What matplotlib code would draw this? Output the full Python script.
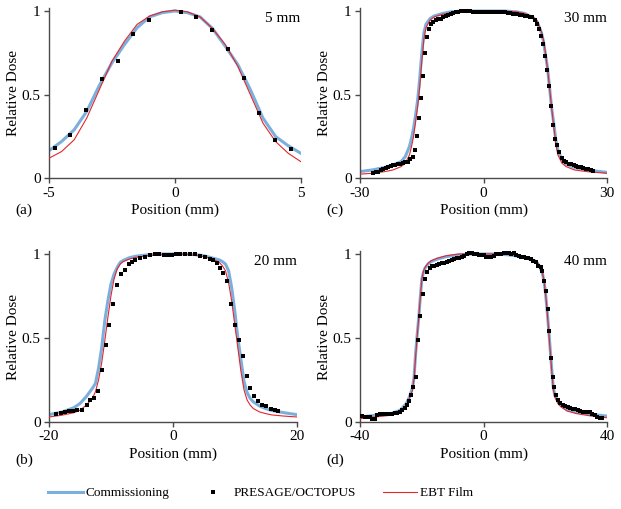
import matplotlib
matplotlib.use("Agg")
import matplotlib.pyplot as plt
from matplotlib.lines import Line2D

plt.rcParams['font.family'] = ['Liberation Serif', 'DejaVu Serif']
plt.rcParams['axes.unicode_minus'] = False

# ---------------- data ----------------
series_labels = ["Commissioning", "PRESAGE/OCTOPUS", "EBT Film"]
field_labels = ["5 mm", "20 mm", "30 mm", "40 mm"]
panel_labels = ["(a)", "(b)", "(c)", "(d)"]

# (a) 5 mm
a_x = [-5, -4.5, -4, -3.5, -3, -2.5, -2, -1.5, -1, -0.5, 0, 0.5, 1, 1.5, 2, 2.5, 3, 3.5, 4, 4.5, 5]
a_comm = [0.165, 0.22, 0.29, 0.40, 0.555, 0.69, 0.80, 0.90, 0.965, 0.99, 1.0, 0.99, 0.965, 0.895,
          0.79, 0.68, 0.53, 0.36, 0.25, 0.195, 0.15]
a_ebt = [0.12, 0.16, 0.23, 0.36, 0.53, 0.70, 0.82, 0.92, 0.97, 0.995, 1.005, 0.995, 0.965, 0.895,
         0.80, 0.67, 0.50, 0.33, 0.22, 0.15, 0.10]
a_pres_x = [-4.76, -4.17, -3.53, -2.88, -2.25, -1.65, -1.01, 0.245, 0.84, 1.48, 2.10, 2.74, 3.34, 3.98, 4.62]
a_pres_y = [0.179, 0.259, 0.408, 0.592, 0.703, 0.863, 0.946, 0.992, 0.962, 0.888, 0.771, 0.602, 0.392, 0.227, 0.175]

# (b) 20 mm
b_x = [-20, -18, -16, -15, -14, -13, -12.5, -12, -11.5, -11,
       -10.5, -10, -9.5, -9, -8.5, -8, -7, -6, -4, -2,
       0, 2, 4, 5, 6, 7, 7.5, 8, 8.5, 9,
       9.5, 10, 10.5, 11, 11.5, 12, 12.5, 13, 14, 15,
       16, 18, 20]
b_comm = [0.044, 0.058, 0.085, 0.11, 0.15, 0.20, 0.23, 0.32, 0.44, 0.60,
          0.72, 0.82, 0.88, 0.92, 0.95, 0.962, 0.978, 0.987, 0.995, 1.0,
          1.0, 1.0, 0.995, 0.99, 0.98, 0.97, 0.965, 0.955, 0.94, 0.90,
          0.80, 0.66, 0.50, 0.37, 0.24, 0.175, 0.14, 0.12, 0.095, 0.08,
          0.068, 0.055, 0.044]
b_ebt = [0.03, 0.04, 0.055, 0.07, 0.10, 0.14, 0.18, 0.25, 0.35, 0.48,
         0.62, 0.75, 0.85, 0.91, 0.94, 0.955, 0.97, 0.98, 0.99, 0.995,
         1.0, 0.998, 0.99, 0.985, 0.975, 0.96, 0.95, 0.93, 0.90, 0.83,
         0.72, 0.58, 0.44, 0.30, 0.19, 0.13, 0.10, 0.08, 0.06, 0.05,
         0.042, 0.035, 0.03]
b_pres_x = [-18.8, -18.1, -17.4, -16.7, -16.1, -15.4, -14.7, -13.9, -13.4, -12.7,
            -12.1, -11.5, -10.8, -10.3, -9.7, -9.0, -8.4, -7.7, -7.1, -6.6,
            -6.1, -5.3, -4.5, -3.7, -2.9, -2.2, -1.5, -0.8, -0.1, 0.5,
            1.15, 1.95, 2.76, 3.57, 4.38, 5.18, 6.0, 6.5, 7.07, 7.6,
            8.14, 8.68, 9.38, 10.03, 10.68, 11.3, 11.9, 12.45, 13.1, 13.8,
            14.4, 15.1, 15.8, 16.5, 17.0]
b_pres_y = [0.048, 0.054, 0.06, 0.063, 0.067, 0.069, 0.073, 0.103, 0.133, 0.143,
            0.183, 0.311, 0.46, 0.579, 0.702, 0.813, 0.881, 0.907, 0.94, 0.955,
            0.966, 0.976, 0.98, 0.996, 1.0, 0.998, 0.995, 0.994, 0.997, 1.0,
            1.0, 1.0, 0.998, 0.998, 0.99, 0.984, 0.972, 0.966, 0.946, 0.917,
            0.887, 0.837, 0.702, 0.575, 0.49, 0.391, 0.272, 0.202, 0.153, 0.123,
            0.103, 0.093, 0.079, 0.069, 0.063]

# (c) 30 mm
c_x = [-30, -27, -24, -22, -20, -19, -18, -17.5, -17, -16.5,
       -16, -15.5, -15, -14.5, -14, -13, -12, -10, -8, -5,
       0, 5, 8, 10, 12, 13, 14, 14.5, 15, 15.5,
       16, 16.5, 17, 17.5, 18, 19, 20, 22, 25, 30]
c_comm = [0.04, 0.05, 0.065, 0.08, 0.10, 0.13, 0.19, 0.24, 0.30, 0.38,
          0.47, 0.60, 0.75, 0.87, 0.92, 0.955, 0.97, 0.985, 0.995, 1.0,
          1.0, 1.0, 0.995, 0.985, 0.96, 0.935, 0.87, 0.82, 0.74, 0.66,
          0.54, 0.42, 0.33, 0.23, 0.17, 0.11, 0.085, 0.065, 0.05, 0.035]
c_ebt = [0.025, 0.03, 0.04, 0.05, 0.07, 0.09, 0.14, 0.19, 0.25, 0.34,
         0.43, 0.55, 0.70, 0.83, 0.90, 0.945, 0.965, 0.98, 0.99, 1.0,
         1.0, 1.0, 0.995, 0.985, 0.965, 0.94, 0.88, 0.83, 0.75, 0.65,
         0.54, 0.42, 0.31, 0.21, 0.14, 0.09, 0.07, 0.05, 0.04, 0.03]
c_pres_x = [-26.8, -26.2, -25.6, -25.0, -24.4, -23.8, -23.2, -22.6, -22.0, -21.4,
            -20.8, -20.2, -19.6, -19.0, -18.4, -17.8, -17.2, -16.7, -16.2, -15.7,
            -15.2, -14.7, -14.2, -13.7, -13.2, -12.7, -12.2, -11.6, -11.0, -10.4,
            -9.8, -9.2, -8.6, -8.0, -7.4, -6.8, -6.2, -5.6, -5.0, -4.4,
            -3.8, -3.2, -2.6, -2.0, -1.4, -0.8, -0.2, 0.4, 1.0, 1.6,
            2.2, 2.8, 3.4, 4.0, 4.6, 5.2, 5.8, 6.4, 7.0, 7.6,
            8.2, 8.8, 9.4, 10.0, 10.6, 11.2, 11.8, 12.4, 12.9, 13.4,
            13.9, 14.4, 14.9, 15.4, 15.9, 16.4, 16.9, 17.4, 17.9, 18.4,
            18.9, 19.4, 20.0, 20.6, 21.2, 21.8, 22.4, 23.0, 23.6, 24.2,
            24.8, 25.4, 26.0, 26.6]
c_pres_y = [0.03, 0.035, 0.04, 0.047, 0.055, 0.062, 0.07, 0.075, 0.08, 0.082,
            0.084, 0.086, 0.09, 0.095, 0.10, 0.115, 0.13, 0.17, 0.25, 0.36,
            0.48, 0.61, 0.75, 0.845, 0.89, 0.92, 0.935, 0.945, 0.95, 0.955,
            0.962, 0.97, 0.976, 0.982, 0.988, 0.992, 0.996, 1.0, 1.002, 1.0,
            1.0, 0.998, 0.996, 0.995, 0.995, 0.995, 0.995, 0.995, 0.996, 0.996,
            0.997, 0.997, 0.996, 0.995, 0.995, 0.993, 0.99, 0.987, 0.985, 0.983,
            0.98, 0.978, 0.975, 0.972, 0.97, 0.967, 0.962, 0.945, 0.92, 0.89,
            0.85, 0.80, 0.73, 0.645, 0.55, 0.43, 0.32, 0.235, 0.20, 0.155,
            0.12, 0.105, 0.095, 0.088, 0.083, 0.078, 0.074, 0.07, 0.066, 0.062,
            0.058, 0.054, 0.05, 0.045]

# (d) 40 mm
d_x = [-40, -35, -30, -27, -25, -24, -23, -22.5, -22, -21.5,
       -21, -20.5, -20, -19.5, -19, -18, -17, -15, -12, -8,
       -4, 0, 4, 8, 12, 15, 17, 18, 19, 19.5,
       20, 20.5, 21, 21.5, 22, 22.5, 23, 24, 25, 27,
       30, 35, 40]
d_comm = [0.03, 0.04, 0.05, 0.07, 0.11, 0.15, 0.205, 0.27, 0.41, 0.52,
          0.62, 0.74, 0.85, 0.89, 0.915, 0.94, 0.955, 0.97, 0.985, 0.995,
          1.0, 1.0, 1.0, 0.995, 0.985, 0.97, 0.955, 0.93, 0.885, 0.84,
          0.77, 0.67, 0.56, 0.44, 0.32, 0.21, 0.16, 0.125, 0.10, 0.075,
          0.058, 0.045, 0.035]
d_ebt = [0.02, 0.03, 0.04, 0.06, 0.10, 0.14, 0.19, 0.26, 0.39, 0.51,
         0.62, 0.74, 0.85, 0.895, 0.92, 0.945, 0.96, 0.975, 0.99, 1.0,
         1.0, 1.0, 1.0, 0.998, 0.99, 0.975, 0.96, 0.935, 0.89, 0.845,
         0.77, 0.67, 0.55, 0.43, 0.31, 0.20, 0.15, 0.11, 0.09, 0.065,
         0.05, 0.035, 0.025]
d_pres_x = [-40.0, -39.2, -38.4, -37.6, -36.8, -36.0, -35.2, -34.4, -33.6, -32.8,
            -32.0, -31.2, -30.4, -29.6, -28.8, -28.0, -27.2, -26.4, -25.6, -24.8,
            -24.0, -23.4, -22.8, -22.0, -21.2, -20.5, -19.7, -19.0, -18.3, -17.5,
            -16.7, -15.9, -15.1, -14.3, -13.5, -12.7, -11.9, -11.1, -10.3, -9.5,
            -8.7, -7.9, -7.1, -6.3, -5.5, -4.7, -3.9, -3.1, -2.3, -1.5,
            -0.7, 0.1, 0.9, 1.7, 2.5, 3.3, 4.1, 4.9, 5.7, 6.5,
            7.3, 8.1, 8.9, 9.7, 10.5, 11.3, 12.1, 12.9, 13.7, 14.5,
            15.3, 16.1, 16.9, 17.7, 18.4, 19.0, 19.6, 20.2, 20.7, 21.2,
            21.8, 22.3, 22.8, 23.4, 24.1, 24.8, 25.6, 26.4, 27.2, 28.0,
            28.8, 29.6, 30.4, 31.2, 32.0, 32.8, 33.6, 34.4, 35.2, 36.0,
            36.8, 37.6, 38.2]
d_pres_y = [0.035, 0.034, 0.032, 0.03, 0.028, 0.02, 0.02, 0.04, 0.045, 0.047,
            0.048, 0.048, 0.05, 0.05, 0.052, 0.056, 0.062, 0.07, 0.085, 0.10,
            0.125, 0.16, 0.21, 0.27, 0.49, 0.63, 0.76, 0.85, 0.89, 0.915,
            0.927, 0.93, 0.935, 0.94, 0.944, 0.948, 0.952, 0.96, 0.966, 0.97,
            0.974, 0.978, 0.985, 0.99, 1.0, 1.005, 1.005, 1.0, 0.998, 0.996,
            0.995, 0.993, 0.985, 0.984, 0.984, 0.99, 0.998, 1.0, 1.0, 1.003,
            1.005, 1.005, 1.0, 1.003, 0.995, 0.99, 0.985, 0.982, 0.978, 0.975,
            0.97, 0.96, 0.95, 0.93, 0.92, 0.90, 0.84, 0.78, 0.67, 0.54,
            0.38, 0.27, 0.21, 0.16, 0.13, 0.115, 0.10, 0.095, 0.09, 0.085,
            0.08, 0.075, 0.07, 0.066, 0.062, 0.06, 0.058, 0.062, 0.05, 0.04,
            0.03, 0.022, 0.024]

x_limits = [(-5, 5), (-20, 20), (-30, 30), (-40, 40)]

# ---------------- style ----------------
COMM_C = '#7bafdc'
EBT_C = '#e3262f'
AX_C = '#4a4a4a'
MS = 2.3

fig = plt.figure(figsize=(6.21, 5.09), dpi=100)

W, H = 621.0, 509.0
YTOP = 1.015
def axes_rect(left_px, right_px, zero_px, one_px):
    unit = zero_px - one_px
    top_px = zero_px - YTOP * unit
    return [left_px / W, 1 - zero_px / H, (right_px - left_px) / W, (zero_px - top_px) / H]

rects = [axes_rect(49, 300.7, 178.3, 11.0),
         axes_rect(49, 296.7, 422.0, 254.0),
         axes_rect(360, 607.3, 178.3, 11.0),
         axes_rect(360, 607.3, 422.0, 254.0)]

panels = [(a_x, a_comm, a_ebt, a_pres_x, a_pres_y),
          (b_x, b_comm, b_ebt, b_pres_x, b_pres_y),
          (c_x, c_comm, c_ebt, c_pres_x, c_pres_y),
          (d_x, d_comm, d_ebt, d_pres_x, d_pres_y)]

panel_label_pos = [(15 / W, 1 - 210.7 / H), (15 / W, 1 - 460 / H),
                   (326 / W, 1 - 210.7 / H), (326 / W, 1 - 460 / H)]

for i, (rect, data) in enumerate(zip(rects, panels)):
    xs, comm, ebt, px, py = data
    ax = fig.add_axes(rect)
    ax.plot(xs, comm, color=COMM_C, lw=2.2, solid_joinstyle='round', zorder=2)
    ax.plot(xs, ebt, color=EBT_C, lw=0.8, zorder=3)
    ax.plot(px, py, linestyle='none', marker='s', ms=MS, mew=0, color='black', zorder=4)
    lo, hi = x_limits[i]
    ax.set_xlim(lo, hi)
    ax.set_ylim(0, YTOP)
    ax.set_xticks([lo, 0, hi])
    ax.set_xticklabels([str(lo), '0', str(hi)])
    ax.set_yticks([0, 0.5, 1])
    ax.set_yticklabels(['0', '0.5', '1'])
    for s in ['top', 'right']:
        ax.spines[s].set_visible(False)
    for s in ['left', 'bottom']:
        ax.spines[s].set_color(AX_C)
        ax.spines[s].set_linewidth(1.0)
    ax.tick_params(direction='out', length=3.5, width=1.0, color=AX_C,
                   labelsize=11, pad=2.5)
    ax.set_xlabel('Position (mm)', fontsize=11)
    ax.xaxis.label.set_va('center')
    ax.xaxis.set_label_coords(0.5, -32.4 / (rect[3] * H))
    ax.set_ylabel('Relative Dose', fontsize=11)
    ax.yaxis.label.set_va('center')
    ax.yaxis.set_label_coords(-35.5 / (rect[2] * W), 0.5)
    ax.text(1.0, 1 - 10.0 / (rect[3] * H), field_labels[i], transform=ax.transAxes,
            ha='right', va='center', fontsize=11)
    fig.text(panel_label_pos[i][0], panel_label_pos[i][1], panel_labels[i],
             ha='left', va='center', fontsize=11)

handles = [Line2D([], [], color=COMM_C, lw=2.2),
           Line2D([], [], linestyle='none', marker='s', ms=MS, mew=0, color='black'),
           Line2D([], [], color=EBT_C, lw=0.8)]
fig.legend(handles, series_labels, loc='center', bbox_to_anchor=(0.42, 1 - 493 / H),
           ncol=3, frameon=False, fontsize=9.5, handlelength=2.6, handletextpad=0.25,
           columnspacing=2.0)

fig.savefig('out.png', dpi=100)
